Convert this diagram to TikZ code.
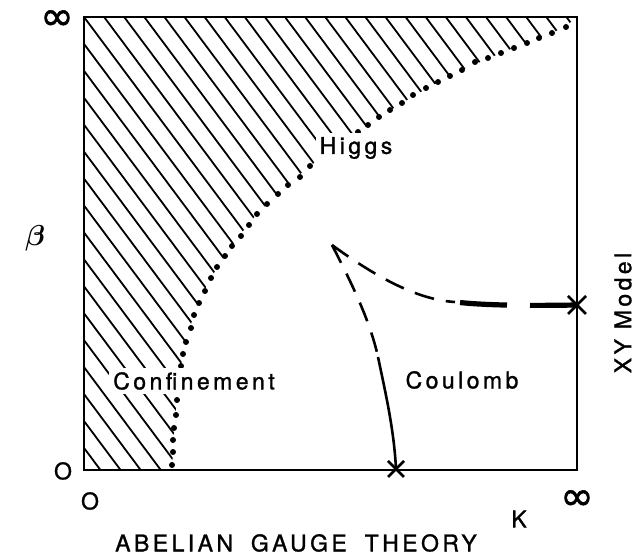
\documentclass[tikz,border=0pt]{standalone}
\usepackage{fontspec}
\usepackage{amsmath}
\usetikzlibrary{calc}
\newfontfamily\lab{TeX Gyre Heros}[LetterSpace=15,FakeBold=1.2]
\newfontfamily\symf{DejaVu Sans}[FakeBold=1.5]
\begin{document}
\begin{tikzpicture}[x=0.5pt,y=-0.5pt,
  lbl/.style={font=\lab\fontsize{11.5}{13}\selectfont, inner sep=1pt},
  lblw/.style={lbl, fill=white, inner sep=2pt},
  sym/.style={font=\symf\fontsize{20}{21}\selectfont, inner sep=0pt},
  frame/.style={line width=1.3pt},
  hatch/.style={line width=0.9pt},
  bdot/.style={fill=black},
  thindash/.style={line width=1.3pt, dash pattern=on 10pt off 6pt},
  thickdash/.style={line width=2.6pt, dash pattern=on 23.5pt off 11.5pt},
  solidline/.style={line width=1.3pt},
  cross/.style={line width=1.3pt}]
\useasboundingbox[fill=white] (0,0) rectangle (634,555);

% hatched region
\begin{scope}
\clip (84,17) -- (84,470) -- plot[smooth] coordinates {(172,470) (174,430) (177,400) (183,354) (194,315) (211,278) (232,246) (257,214) (288,185) (310,166) (334,149) (358,132) (402,103) (450,76) (501,53) (552,33) (577,18)} -- cycle;
\foreach \k in {-17,...,25}
  \draw[hatch] ({84+20.1*\k},17) -- ++(600,804);
\end{scope}

% boundary dots
\foreach \p in {(172,465),(173,452),(173,440),(174,428),(176,415),(177,400),(179,388),(180,377),(181,366),
  (183,354),(186,342),(191,328),(194,315),(199,303),(205,291),(211,278),(217,267),(225,256),(232,246),
  (241,236),(249,225),(257,214),(267,204),(278,194),(288,185),(300,177),(310,166),(322,157),(334,149),(346,140),
  (358,132),(368,125),(379,117),(390,110),(402,103),(413,95),(426,88),(438,82),(450,76),(462,70),(475,62),
  (488,58),(501,53),(514,48),(527,43),(539,38),(552,33),(566,27)}
  \fill[bdot] \p circle (3);

% frame
\draw[frame] (84,17) rectangle (577,470);

% labels in the field
\node[lblw] (conf) at (194,381) {Confinement};
\node[lblw] (higgs) at (356,148) {Higgs};
\node[lbl] (coul) at (462,380) {Coulomb};

% phase lines
\coordinate (cusp) at (332,245);
\coordinate (mid) at (378,357);
\coordinate (xk) at (396,469);
\coordinate (bend) at (455,302);
\coordinate (xb) at (577,305);
\draw[thindash] (cusp) .. controls (350,280) and (370,320) .. (mid);
\draw[solidline] (mid) .. controls (386,395) and (394,430) .. (xk);
\draw[thindash] (cusp) .. controls (380,280) and (420,300) .. (bend);
\draw[thickdash] (xb) .. controls (520,306) and (480,305) .. (bend);

% crosses
\draw[cross] ($(xk)+(-8,-8)$) -- ($(xk)+(8,8)$) ($(xk)+(-8,8)$) -- ($(xk)+(8,-8)$);
\draw[cross] ($(xb)+(-9,-9)$) -- ($(xb)+(9,9)$) ($(xb)+(-9,9)$) -- ($(xb)+(9,-9)$);

% axis labels
\node[sym] (inftop) at (57,20) {∞};
\node[inner sep=0pt] (beta) at (35,238) {\fontsize{14}{15}\selectfont$\boldsymbol{\beta}$};
\node[lbl] (zeroy) at (63,471) {O};
\node[lbl] (zerox) at (90,501) {O};
\node[sym] (infx) at (577,500) {∞};
\node[lbl] (kk) at (519,519) {K};
\node[lbl, rotate=90] (xy) at (623,313) {XY Model};
\node[lbl] (title) at (296,543) {ABELIAN\hspace{4pt} GAUGE\hspace{4pt} THEORY};
\end{tikzpicture}
\end{document}
